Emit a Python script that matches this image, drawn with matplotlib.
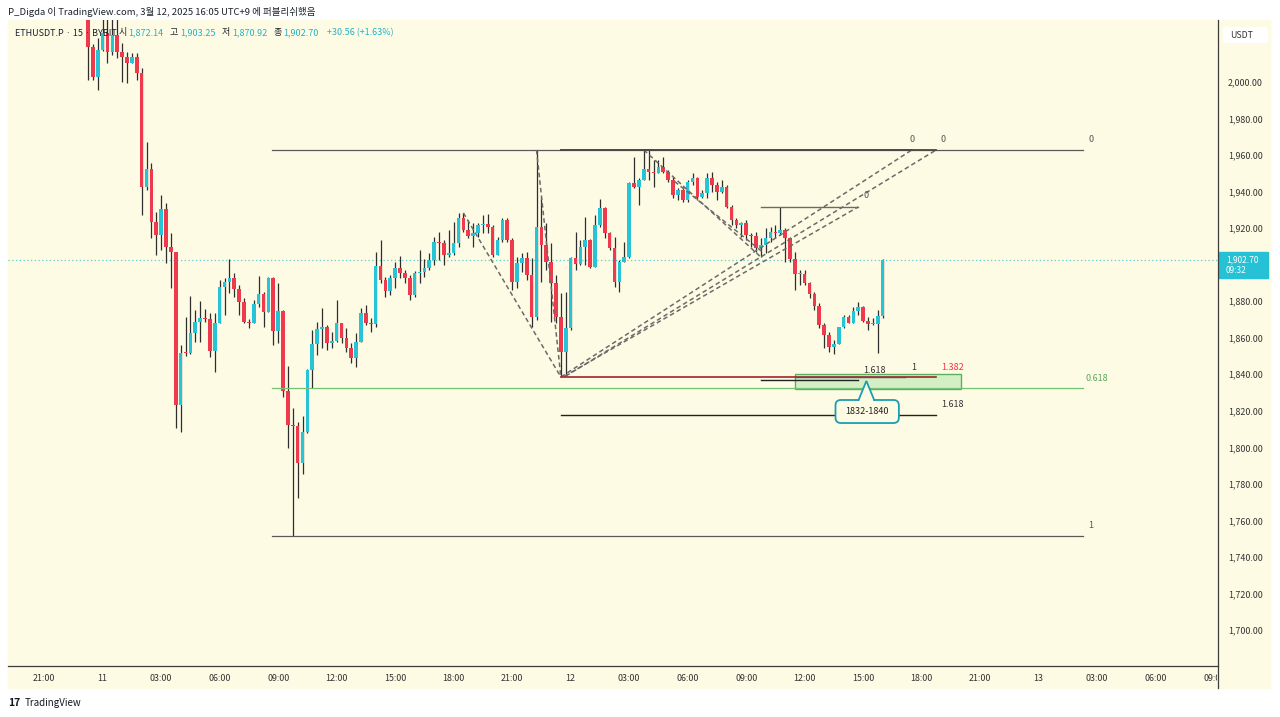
import numpy as np
import pandas as pd
import matplotlib
matplotlib.use('Agg')
import matplotlib.pyplot as plt
from matplotlib.patches import Rectangle, FancyBboxPatch, Polygon
from matplotlib.lines import Line2D
from matplotlib.transforms import Bbox, TransformedBbox

plt.rcParams['font.family'] = ['Noto Sans CJK KR', 'DejaVu Sans']

# ETHUSDT.P 15m candles (BYBIT), UTC+9, first visible candle 10 Mar 23:15
t0 = pd.Timestamp('2025-03-10 23:15')
first_open = 2040.0
closes = [
    2019.3, 2002.9, 2017.5, 2026.7, 2016.6, 2025.7, 2016.6, 2013.9, 2010.6, 2013.5,
    2004.8, 1942.7, 1952.2, 1923.5, 1916.2, 1930.3, 1909.9, 1906.8, 1823.2, 1851.8,
    1851.5, 1862.4, 1868.8, 1870.6, 1870.1, 1852.9, 1867.9, 1887.9, 1890.7, 1892.9,
    1886.5, 1879.7, 1868.8, 1867.9, 1878.5, 1884.0, 1874.3, 1892.9, 1863.9, 1874.6,
    1830.8, 1812.2, 1811.8, 1791.4, 1808.4, 1842.3, 1856.6, 1864.8, 1865.9, 1857.1,
    1858.2, 1868.1, 1859.9, 1854.4, 1848.9, 1857.7, 1873.5, 1868.1, 1867.5, 1899.3,
    1891.6, 1885.6, 1892.7, 1898.2, 1895.4, 1892.7, 1883.4, 1895.4, 1896.0, 1898.2,
    1902.6, 1912.4, 1911.9, 1905.3, 1906.4, 1911.9, 1925.5, 1919.0, 1915.7, 1917.3,
    1921.7, 1922.3, 1920.6, 1905.3, 1913.5, 1924.5, 1913.5, 1890.5, 1900.9, 1903.7,
    1894.3, 1871.4, 1920.6, 1910.8, 1901.5, 1890.0, 1871.4, 1852.2, 1865.3, 1903.7,
    1900.5, 1909.7, 1913.5, 1898.7, 1921.7, 1931.0, 1917.3, 1909.1, 1890.5, 1901.5,
    1904.2, 1944.7, 1942.5, 1946.4, 1952.4, 1950.7, 1950.2, 1953.5, 1950.7, 1946.4,
    1938.1, 1940.9, 1935.4, 1945.3, 1947.4, 1937.0, 1939.2, 1947.4, 1943.6, 1939.8,
    1942.5, 1931.6, 1924.5, 1921.7, 1922.8, 1916.2, 1915.7, 1909.1, 1910.8, 1914.6,
    1917.9, 1917.3, 1919.0, 1914.6, 1903.1, 1894.9, 1894.9, 1890.0, 1884.0, 1877.4,
    1867.0, 1861.5, 1854.9, 1856.6, 1865.9, 1871.4, 1868.1, 1874.6, 1876.8, 1869.2,
    1867.5, 1867.5, 1872.14, 1902.70,
]
highs = [
    2045.0, 2021.0, 2024.0, 2036.0, 2036.0, 2035.0, 2035.0, 2021.3, 2016.6, 2015.9,
    2015.9, 2007.7, 1967.3, 1955.7, 1929.0, 1938.1, 1933.9, 1917.2, 1907.1, 1856.0,
    1871.5, 1882.8, 1875.2, 1880.3, 1875.9, 1873.7, 1873.5, 1891.6, 1892.5, 1903.1,
    1895.3, 1888.9, 1881.6, 1870.0, 1880.7, 1893.8, 1885.0, 1893.5, 1893.5, 1890.0,
    1875.0, 1844.5, 1821.5, 1813.9, 1817.2, 1843.0, 1864.2, 1868.6, 1876.3, 1867.0,
    1863.1, 1880.7, 1868.0, 1865.3, 1857.0, 1862.6, 1876.3, 1877.9, 1870.8, 1906.9,
    1913.5, 1893.3, 1894.3, 1901.5, 1904.7, 1897.1, 1894.3, 1896.5, 1908.0, 1903.1,
    1906.4, 1915.2, 1917.9, 1913.5, 1919.0, 1923.4, 1928.3, 1928.3, 1924.5, 1922.8,
    1922.8, 1927.2, 1927.7, 1921.7, 1915.2, 1925.5, 1925.5, 1914.6, 1904.2, 1906.4,
    1906.9, 1903.7, 1962.8, 1937.1, 1922.8, 1911.9, 1894.3, 1884.5, 1885.0, 1904.2,
    1917.9, 1913.5, 1926.1, 1914.1, 1927.2, 1936.0, 1931.6, 1917.9, 1915.2, 1902.6,
    1912.4, 1945.3, 1958.9, 1947.4, 1962.8, 1962.8, 1957.3, 1957.3, 1958.9, 1951.8,
    1948.0, 1942.0, 1942.5, 1946.4, 1950.2, 1948.0, 1940.9, 1950.2, 1950.7, 1945.3,
    1946.4, 1943.6, 1932.7, 1925.5, 1923.4, 1924.5, 1917.3, 1917.9, 1914.6, 1920.1,
    1920.6, 1921.7, 1931.6, 1920.1, 1915.2, 1906.9, 1897.1, 1897.1, 1890.5, 1885.0,
    1879.1, 1868.0, 1863.1, 1858.8, 1865.9, 1872.4, 1872.4, 1876.8, 1879.6, 1877.4,
    1871.4, 1870.8, 1875.2, 1903.25,
]
lows = [
    2001.1, 2001.1, 1995.6, 2017.0, 2010.4, 2015.0, 2013.0, 2000.2, 1999.4, 2010.4,
    2001.1, 1927.2, 1941.0, 1914.6, 1905.3, 1908.0, 1900.7, 1887.0, 1810.4, 1808.6,
    1850.0, 1851.0, 1857.8, 1857.8, 1868.8, 1849.6, 1841.4, 1868.0, 1872.4, 1884.3,
    1882.5, 1872.4, 1867.9, 1865.2, 1868.8, 1877.0, 1866.0, 1874.0, 1856.0, 1857.0,
    1827.7, 1799.6, 1751.5, 1772.3, 1785.4, 1808.0, 1832.5, 1850.6, 1854.4, 1853.3,
    1854.4, 1857.7, 1857.0, 1852.2, 1846.2, 1844.0, 1857.7, 1867.0, 1863.1, 1866.0,
    1890.0, 1882.3, 1883.4, 1887.2, 1892.7, 1890.0, 1880.7, 1882.3, 1890.0, 1893.3,
    1897.1, 1899.8, 1902.6, 1899.8, 1904.2, 1905.3, 1909.7, 1917.9, 1914.6, 1909.7,
    1915.2, 1917.3, 1917.3, 1904.2, 1908.0, 1912.4, 1912.4, 1886.1, 1887.2, 1896.0,
    1891.6, 1865.9, 1869.7, 1890.5, 1897.1, 1868.6, 1868.0, 1838.5, 1839.6, 1864.2,
    1897.1, 1899.8, 1899.8, 1898.2, 1898.7, 1920.6, 1914.6, 1908.0, 1887.8, 1885.0,
    1901.5, 1903.7, 1942.0, 1932.7, 1946.4, 1946.4, 1942.5, 1950.2, 1950.2, 1945.3,
    1936.5, 1935.4, 1934.3, 1934.3, 1943.6, 1935.4, 1936.5, 1936.5, 1939.8, 1935.4,
    1939.2, 1931.0, 1921.7, 1920.1, 1915.2, 1913.5, 1909.7, 1906.9, 1904.2, 1906.4,
    1912.4, 1914.6, 1916.2, 1901.5, 1901.5, 1886.1, 1888.9, 1888.9, 1881.8, 1875.2,
    1865.3, 1854.4, 1852.2, 1851.1, 1860.4, 1865.3, 1868.0, 1868.6, 1872.4, 1868.6,
    1864.2, 1867.0, 1851.6, 1870.92,
]
assert len(closes) == len(highs) == len(lows)

# fib retracement drawn on the chart
fib_hi, fib_lo = 1962.8, 1751.5
fib_levels = [0, 0.618, 1]
fib_from, fib_to = '2025-03-11 08:40', '2025-03-13 02:15'

# other level lines: (start, end, price, colour, width)
level_lines = [
    ('2025-03-11 23:30', '2025-03-12 17:30', 1962.8, '#4a4a4a', 1.3),
    ('2025-03-11 23:30', '2025-03-12 18:45', 1962.8, '#4a4a4a', 1.3),
    ('2025-03-12 09:45', '2025-03-12 14:45', 1931.6, '#6a6a6a', 1.0),
    ('2025-03-11 23:30', '2025-03-12 18:45', 1838.7, '#a3242c', 1.2),
    ('2025-03-12 11:30', '2025-03-12 17:10', 1838.7, '#555555', 1.0),
    ('2025-03-12 09:45', '2025-03-12 14:45', 1837.0, '#222222', 1.0),
    ('2025-03-11 23:30', '2025-03-12 18:45', 1817.7, '#222222', 1.0),
]
# dashed trend lines: ((t1, p1), (t2, p2))
dashed_lines = [
    (('2025-03-11 18:30', 1928.3), ('2025-03-11 23:30', 1838.5)),
    (('2025-03-11 22:15', 1962.8), ('2025-03-11 23:30', 1838.5)),
    (('2025-03-11 23:30', 1838.5), ('2025-03-12 17:30', 1962.8)),
    (('2025-03-11 23:45', 1839.0), ('2025-03-12 18:45', 1962.8)),
    (('2025-03-11 23:40', 1838.8), ('2025-03-12 14:45', 1931.6)),
    (('2025-03-12 03:45', 1962.8), ('2025-03-12 09:45', 1904.2)),
    (('2025-03-12 05:20', 1945.5), ('2025-03-12 09:50', 1907.0)),
]
# level labels: (time, price, text, colour, align)
level_labels = [
    ('2025-03-12 17:30', 1968.3, '0', '#555555', 'center'),
    ('2025-03-12 19:05', 1968.3, '0', '#555555', 'center'),
    ('2025-03-12 15:10', 1937.8, '0', '#555555', 'center'),
    ('2025-03-13 02:40', 1968.3, '0', '#555555', 'center'),
    ('2025-03-13 02:25', 1837.4, '0.618', '#5aa85a', 'left'),
    ('2025-03-13 02:40', 1757.0, '1', '#555555', 'center'),
    ('2025-03-12 15:35', 1842.3, '1.618', '#333333', 'center'),
    ('2025-03-12 17:35', 1843.8, '1', '#333333', 'center'),
    ('2025-03-12 19:35', 1843.8, '1.382', '#f23645', 'center'),
    ('2025-03-12 19:35', 1823.2, '1.618', '#333333', 'center'),
]
zone = ('2025-03-12 11:30', '2025-03-12 20:00', 1832.0, 1840.0)
callout = ('2025-03-12 13:35', '2025-03-12 16:50', 1813.3, 1825.9)
callout_tip = ('2025-03-12 15:10', 1836.3)
callout_text = '1832-1840'
last_price = closes[-1]
# price scale labels (1,900 sits under the last-price tag)
price_ticks = [v for v in range(1700, 2001, 20) if v != 1900]

W, H = 1280, 717
bg = '#fefbe4'
up_col, dn_col = '#27c3d6', '#ee3a4c'
teal = '#1fb3c8'


def fx(px):
    return px / W


def fy(py):
    return 1 - py / H


def tx(ts):
    return (pd.Timestamp(ts) - t0) / pd.Timedelta('15min')


fig = plt.figure(figsize=(W / 100, H / 100), dpi=100, facecolor='white')
fig.add_artist(Rectangle((fx(8), fy(688)), fx(1270) - fx(8), fy(20) - fy(688),
                         transform=fig.transFigure, color=bg, zorder=-10))
ax = fig.add_axes([fx(8), fy(666), fx(1218) - fx(8), fy(20) - fy(666)])
ax.set_facecolor('none')
for s in ax.spines.values():
    s.set_visible(False)

# candles
n = len(closes)
xs = np.arange(n)
opens = np.array([first_open] + closes[:-1])
c = np.array(closes)
hi = np.maximum(np.array(highs), np.maximum(opens, c))
lo = np.minimum(np.array(lows), np.minimum(opens, c))
up = c >= opens
ax.vlines(xs, lo, hi, color='#2e2e2e', lw=0.9, zorder=2)
body_lo = np.minimum(opens, c)
body_h = np.maximum(np.abs(c - opens), 0.5)
ax.bar(xs, body_h, bottom=body_lo, width=0.74,
       color=np.where(up, up_col, dn_col), zorder=3, linewidth=0)

# last price dotted line
ax.axhline(last_price, color='#5ccbd8', lw=0.9, ls=(0, (1, 2)), zorder=1)

# fib retracement
for lv in fib_levels:
    p = fib_hi - lv * (fib_hi - fib_lo)
    col = '#74c374' if lv == 0.618 else '#5a5a5a'
    ax.plot([tx(fib_from), tx(fib_to)], [p, p], color=col, lw=0.9, zorder=4)

for a, b, p, col, lw in level_lines:
    ax.plot([tx(a), tx(b)], [p, p], color=col, lw=lw, zorder=5)

for (ta, pa), (tb, pb) in dashed_lines:
    ax.plot([tx(ta), tx(tb)], [pa, pb], color='#6b6b6b', lw=1.1,
            ls=(0, (3, 2)), zorder=4)

# 1832-1840 zone
ax.add_patch(Rectangle((tx(zone[0]), zone[2]), tx(zone[1]) - tx(zone[0]),
                       zone[3] - zone[2], facecolor='#d3efc4', edgecolor='#4fae57',
                       lw=1.0, zorder=3.5, alpha=0.95))

for t, p, s, col, ha in level_labels:
    ax.text(tx(t), p, s, color=col, fontsize=6.5, ha=ha, va='center', zorder=6)

# callout bubble
xa, xb = tx(callout[0]), tx(callout[1])
ax.add_patch(FancyBboxPatch((xa, callout[2]), xb - xa, callout[3] - callout[2],
                            boxstyle='round,pad=0,rounding_size=1.1',
                            mutation_aspect=2.67, facecolor=bg,
                            edgecolor='#1a9fb2', lw=1.3, zorder=6))
tipx = tx(callout_tip[0])
ax.add_patch(Polygon([[tipx - 1.5, callout[3] - 0.6], [tipx, callout_tip[1]],
                      [tipx + 1.5, callout[3] - 0.6]], closed=True,
                     facecolor=bg, edgecolor='none', zorder=7))
ax.plot([tipx - 1.6, tipx, tipx + 1.6], [callout[3], callout_tip[1], callout[3]],
        color='#1a9fb2', lw=1.3, zorder=7, solid_joinstyle='miter')
ax.text((xa + xb) / 2, (callout[2] + callout[3]) / 2, callout_text, fontsize=6.5,
        color='#222222', ha='center', va='center', zorder=8)

# axes
ax.set_xlim((8 - 88) / 4.875, (1218 - 88) / 4.875)
ax.set_ylim(1680.3, 2033.9)
ax.yaxis.tick_right()
ax.set_yticks(price_ticks)
ax.set_yticklabels([f'{v:,.2f}' for v in price_ticks])
ax.tick_params(axis='y', length=0, pad=7, labelsize=6.4, colors='#333333')

tick_times = pd.date_range('2025-03-10 21:00', '2025-03-13 09:00', freq='3h')
ax.set_xticks([tx(t) for t in tick_times])
ax.set_xticklabels([str(t.day) if t.hour == 0 else t.strftime('%H:%M')
                    for t in tick_times])
ax.tick_params(axis='x', length=0, pad=6, labelsize=6.4, colors='#333333')
clip = TransformedBbox(Bbox([[0, 0], [fx(1217), 1]]), fig.transFigure)
for lab in ax.get_xticklabels():
    lab.set_clip_on(True)
    lab.set_clip_box(clip)

# panel separators
fig.add_artist(Line2D([fx(1218), fx(1218)], [fy(20), fy(688)], color='#3c3c3c',
                      lw=0.9, transform=fig.transFigure))
fig.add_artist(Line2D([fx(8), fx(1218)], [fy(666), fy(666)], color='#3c3c3c',
                      lw=0.9, transform=fig.transFigure))

# price scale extras
fig.add_artist(FancyBboxPatch((fx(1223), fy(43)), fx(1268) - fx(1223), fy(27) - fy(43),
                              boxstyle='round,pad=0,rounding_size=0.002',
                              facecolor='white', edgecolor='none',
                              transform=fig.transFigure))
fig.text(fx(1230), fy(35), 'USDT', fontsize=6.3, color='#333333', va='center')
fig.add_artist(Rectangle((fx(1219), fy(278)), fx(1268) - fx(1219), fy(252) - fy(278),
                         transform=fig.transFigure, color='#26c1d4'))
fig.text(fx(1226), fy(265), f'{last_price:,.2f}\n09:32', fontsize=6,
         color='white', va='center', linespacing=1.25)

# headers
fig.text(fx(8), fy(12), 'P_Digda 이 TradingView.com, 3월 12, 2025 16:05 UTC+9 에 퍼블리쉬했음',
         fontsize=6.85, color='#1e222d', va='center')
chg = closes[-1] - opens[-1]
pieces = [
    (15, 'ETHUSDT.P · 15 · BYBIT', '#1e222d'),
    (119, '시', '#1e222d'), (128, f'{opens[-1]:,.2f}', teal),
    (170, '고', '#1e222d'), (180, f'{highs[-1]:,.2f}', teal),
    (222, '저', '#1e222d'), (232, f'{lows[-1]:,.2f}', teal),
    (274, '종', '#1e222d'), (283, f'{closes[-1]:,.2f}', teal),
    (327, f'+{chg:.2f} (+{chg / opens[-1] * 100:.2f}%)', teal),
]
for px, s, col in pieces:
    fig.text(fx(px), fy(33), s, fontsize=6.5, color=col, va='center')

fig.text(fx(8), fy(703), '17', fontsize=7.5, fontweight='heavy', color='#131722', va='center')
fig.text(fx(25), fy(703), 'TradingView', fontsize=7, color='#131722', va='center')

fig.savefig('out.png', dpi=100, facecolor='white')
